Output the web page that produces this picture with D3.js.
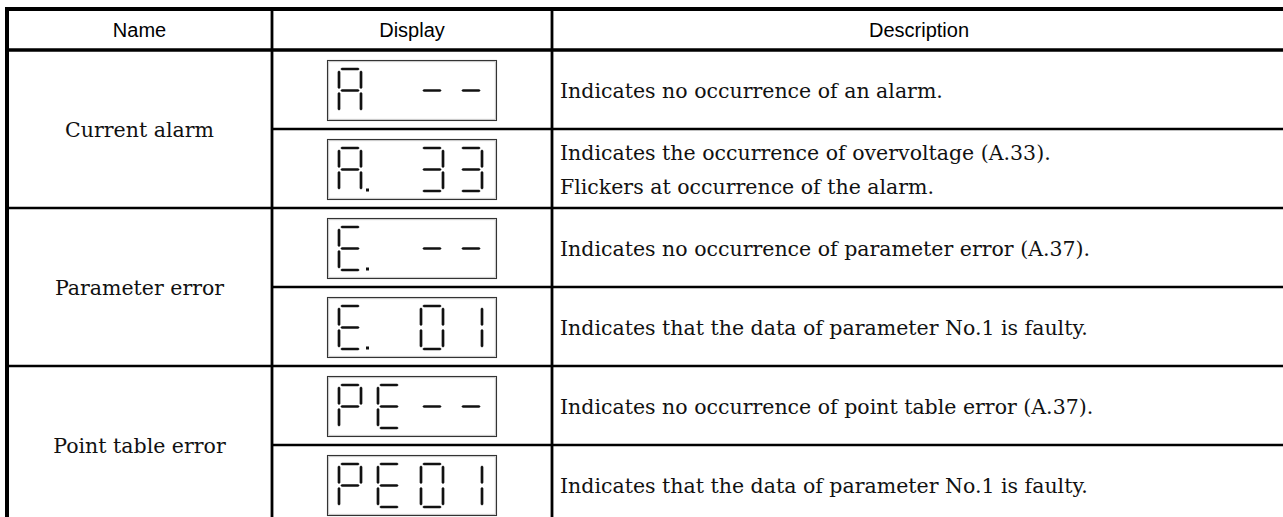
<!DOCTYPE html>
<html><head><meta charset="utf-8">
<script src="https://cdn.jsdelivr.net/npm/d3@7"></script>
<style>body{margin:0;background:#fff;overflow:hidden}</style>
</head><body><svg id="c" width="1283" height="517"></svg>
<script>
// ---- data ----
const headers = ["Name", "Display", "Description"];
const groupNames = ["Current alarm", "Parameter error", "Point table error"];
const groupFirstRow = [0, 2, 4];
const groupRowCount = [2, 2, 2];
const displayChars = [
  ["A", " ", "-", "-"],
  ["A", " ", "3", "3"],
  ["E", " ", "-", "-"],
  ["E", " ", "0", "1"],
  ["P", "E", "-", "-"],
  ["P", "E", "0", "1"]
];
const decimalPoints = [
  [0, 0, 0, 0],
  [1, 0, 0, 0],
  [1, 0, 0, 0],
  [1, 0, 0, 0],
  [0, 0, 0, 0],
  [0, 0, 0, 0]
];
const descriptions = [
  ["Indicates no occurrence of an alarm."],
  ["Indicates the occurrence of overvoltage (A.33).", "Flickers at occurrence of the alarm."],
  ["Indicates no occurrence of parameter error (A.37)."],
  ["Indicates that the data of parameter No.1 is faulty."],
  ["Indicates no occurrence of point table error (A.37)."],
  ["Indicates that the data of parameter No.1 is faulty."]
];
const segmentMap = { "A": "abcefg", "3": "abcdg", "E": "adefg", "0": "abcdef", "1": "bc", "P": "abefg", "-": "g", " ": "" };

// ---- layout ----
const svg = d3.select("#c");
const W = 1283, H = 517;
const colEdge = d3.scaleOrdinal().domain([0, 1, 2, 3]).range([7, 272, 552, 1286]);
const headerTop = 9, headerBottom = 50;
const y = d3.scaleLinear().domain([0, 6]).range([headerBottom, 524]);
const digitX = d3.scaleOrdinal().domain([0, 1, 2, 3]).range([12, 51, 94, 133]);
const boxW = 169, boxH = 60, boxDX = 55, boxDY = 10;
const digW = 22, digH = 43, digDY = 9, segT = 2.7, gap = 1.4;
const serif = "DejaVu Serif, serif", serifSize = 20.5;

const g = svg.append("g");

// header texts
headers.forEach((h, i) => {
  g.append("text")
    .attr("x", (colEdge(i) + colEdge(i + 1)) / 2)
    .attr("y", (headerTop + headerBottom) / 2)
    .attr("dy", "0.37em")
    .attr("text-anchor", "middle")
    .attr("font-family", "Liberation Sans, Arial, sans-serif")
    .attr("font-size", 20)
    .attr("fill", "#000")
    .text(h);
});

// group names
groupNames.forEach((n, i) => {
  const cy = y(groupFirstRow[i] + groupRowCount[i] / 2);
  g.append("text")
    .attr("x", (colEdge(0) + colEdge(1)) / 2)
    .attr("y", cy)
    .attr("dy", "0.37em")
    .attr("text-anchor", "middle")
    .attr("font-family", serif)
    .attr("font-size", serifSize)
    .attr("fill", "#111")
    .text(n);
});

// descriptions
descriptions.forEach((lines, r) => {
  const cy = (y(r) + y(r + 1)) / 2;
  const lh = 34;
  lines.forEach((ln, k) => {
    g.append("text")
      .attr("x", colEdge(2) + 8)
      .attr("y", cy + (k - (lines.length - 1) / 2) * lh)
      .attr("dy", "0.4em")
      .attr("font-family", serif)
      .attr("font-size", serifSize)
      .attr("fill", "#111")
      .text(ln);
  });
});

// segment polygon
function segPoints(seg, x0, y0) {
  const hh = digH / 2, t = segT / 2;
  function hor(yy) {
    const x1 = x0 + gap, x2 = x0 + digW - gap;
    return [[x1, yy], [x1 + t, yy - t], [x2 - t, yy - t], [x2, yy], [x2 - t, yy + t], [x1 + t, yy + t]];
  }
  function ver(xx, ya, yb) {
    const y1 = ya + gap, y2 = yb - gap;
    return [[xx, y1], [xx + t, y1 + t], [xx + t, y2 - t], [xx, y2], [xx - t, y2 - t], [xx - t, y1 + t]];
  }
  switch (seg) {
    case "a": return hor(y0);
    case "g": return hor(y0 + hh);
    case "d": return hor(y0 + digH);
    case "f": return ver(x0, y0, y0 + hh);
    case "e": return ver(x0, y0 + hh, y0 + digH);
    case "b": return ver(x0 + digW, y0, y0 + hh);
    case "c": return ver(x0 + digW, y0 + hh, y0 + digH);
  }
}

// displays
displayChars.forEach((chars, r) => {
  const bx = colEdge(1) + boxDX, by = y(r) + boxDY;
  g.append("rect").attr("x", bx + 0.5).attr("y", by + 0.5).attr("width", boxW).attr("height", boxH)
    .attr("fill", "#fff").attr("stroke", "#333").attr("stroke-width", 1.1);
  g.append("rect").attr("x", bx + 1.7).attr("y", by + 1.7).attr("width", boxW - 2.4).attr("height", boxH - 2.4)
    .attr("fill", "none").attr("stroke", "#bbb").attr("stroke-width", 0.8);
  chars.forEach((ch, p) => {
    const x0 = bx + digitX(p), y0 = by + digDY;
    (segmentMap[ch] || "").split("").forEach(s => {
      g.append("polygon").attr("points", segPoints(s, x0, y0).map(q => q.join(",")).join(" "))
        .attr("fill", "#111");
    });
    if (decimalPoints[r][p]) {
      g.append("rect").attr("x", x0 + digW + 5).attr("y", y0 + digH - 2.5).attr("width", 3).attr("height", 3)
        .attr("fill", "#111");
    }
  });
});

// grid lines
const lines = g.append("g").attr("stroke", "#000");
lines.append("line").attr("x1", colEdge(0) - 2).attr("x2", W).attr("y1", headerTop).attr("y2", headerTop).attr("stroke-width", 4);
lines.append("line").attr("x1", colEdge(0)).attr("x2", W).attr("y1", headerBottom).attr("y2", headerBottom).attr("stroke-width", 3.5);
lines.append("line").attr("x1", colEdge(0)).attr("x2", colEdge(0)).attr("y1", headerTop - 2).attr("y2", H).attr("stroke-width", 4);
[1, 2].forEach(c => {
  lines.append("line").attr("x1", colEdge(c)).attr("x2", colEdge(c)).attr("y1", headerTop).attr("y2", H).attr("stroke-width", 2.8);
});
[1, 2, 3, 4, 5].forEach(i => {
  const inGroup = groupFirstRow.indexOf(i) < 0;
  lines.append("line").attr("x1", inGroup ? colEdge(1) : colEdge(0)).attr("x2", W)
    .attr("y1", y(i)).attr("y2", y(i)).attr("stroke-width", 2.3);
});
</script></body></html>
